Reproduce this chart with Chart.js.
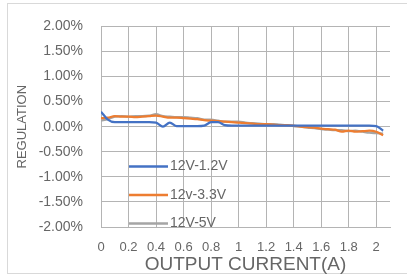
<!DOCTYPE html>
<html>
<head>
<meta charset="utf-8">
<script src="https://cdn.jsdelivr.net/npm/chart.js@4"></script>
<style>
    html, body { margin: 0; background: #fff; overflow: hidden; }
    #frame { position: absolute; left: 7px; top: 3px; width: 405px; height: 269px; border: 1px solid #d9d9d9; }
    #chart { position: absolute; left: 0; top: 0; }
</style>
</head>
<body>
<div id="frame"></div>
<canvas id="chart" width="407" height="275"></canvas>
<script>
// output current (A), one reading every 0.05 A
const currents = [
    0, 0.05, 0.1, 0.15, 0.2, 0.25, 0.3, 0.35, 0.4, 0.45,
    0.5, 0.55, 0.6, 0.65, 0.7, 0.75, 0.8, 0.85, 0.9, 0.95,
    1, 1.05, 1.1, 1.15, 1.2, 1.25, 1.3, 1.35, 1.4, 1.45,
    1.5, 1.55, 1.6, 1.65, 1.7, 1.75, 1.8, 1.85, 1.9, 1.95,
    2, 2.05
];

// regulation in %
const reg12to1v2 = [
    0.30, 0.14, 0.09, 0.09, 0.09, 0.09, 0.09, 0.09, 0.08, 0.00,
    0.08, 0.01, 0.01, 0.01, 0.01, 0.02, 0.09, 0.09, 0.03, 0.02,
    0.02, 0.02, 0.02, 0.02, 0.02, 0.02, 0.02, 0.02, 0.02, 0.02,
    0.02, 0.02, 0.02, 0.02, 0.02, 0.02, 0.02, 0.02, 0.02, 0.02,
    0.01, -0.08
];
const reg12to3v3 = [
    0.17, 0.18, 0.21, 0.20, 0.20, 0.19, 0.20, 0.21, 0.22, 0.20,
    0.18, 0.18, 0.17, 0.16, 0.15, 0.13, 0.12, 0.11, 0.10, 0.09,
    0.08, 0.07, 0.06, 0.05, 0.05, 0.04, 0.03, 0.03, 0.02, 0.00,
    -0.01, -0.02, -0.04, -0.05, -0.06, -0.10, -0.08, -0.10, -0.09, -0.08,
    -0.10, -0.17
];
const reg12to5v = [
    0.12, 0.15, 0.20, 0.21, 0.20, 0.21, 0.21, 0.22, 0.25, 0.21,
    0.20, 0.19, 0.19, 0.18, 0.17, 0.14, 0.14, 0.12, 0.10, 0.10,
    0.10, 0.08, 0.07, 0.06, 0.05, 0.05, 0.04, 0.03, 0.01, 0.00,
    -0.02, -0.03, -0.05, -0.06, -0.07, -0.07, -0.09, -0.08, -0.10, -0.12,
    -0.13, -0.14
];

const seriesNames = ["12V-1.2V", "12v-3.3V", "12V-5V"];
const seriesColors = ["#4472C4", "#ED7D31", "#A5A5A5"];

const textColor = "#666666";
const gridColor = "#b4b4b4";

const points = (values) => values.map((v, i) => ({ x: currents[i], y: v }));

// legend sits inside the plot, stacked at the lower left
const insideLegend = {
    id: "insideLegend",
    afterDatasetsDraw(chart) {
        const { ctx, chartArea } = chart;
        const x0 = chartArea.left + 28;
        let y = chartArea.top + 140;

        ctx.save();
        ctx.font = "14px " + Chart.defaults.font.family;
        ctx.textAlign = "left";
        ctx.textBaseline = "middle";
        ctx.fillStyle = textColor;
        chart.data.datasets.forEach((ds) => {
            ctx.strokeStyle = ds.borderColor;
            ctx.lineWidth = 2.5;
            ctx.beginPath();
            ctx.moveTo(x0, y);
            ctx.lineTo(x0 + 39, y);
            ctx.stroke();
            ctx.fillText(ds.label, x0 + 41, y);
            y += 28.5;
        });
        ctx.restore();
    }
};

const makeDataset = (i, values, order) => ({
    label: seriesNames[i],
    data: points(values),
    borderColor: seriesColors[i],
    borderWidth: 2.25,
    pointRadius: 0,
    cubicInterpolationMode: "monotone",
    order: order
});

new Chart(document.querySelector("#chart"), {
    type: "line",
    data: {
        datasets: [
            makeDataset(0, reg12to1v2, 1),
            makeDataset(1, reg12to3v3, 2),
            makeDataset(2, reg12to5v, 3)
        ]
    },
    options: {
        responsive: false,
        animation: false,
        layout: {
            padding: { top: 21, right: 17, left: 0, bottom: 0 }
        },
        scales: {
            x: {
                type: "linear",
                min: 0,
                max: 2.1,
                border: { color: gridColor },
                grid: { color: gridColor, drawTicks: false },
                ticks: {
                    stepSize: 0.2,
                    includeBounds: false,
                    maxRotation: 0,
                    autoSkip: false,
                    padding: 13,
                    color: textColor,
                    font: { size: 13 },
                    callback: (v) => String(Number(v.toFixed(1)))
                },
                title: {
                    display: true,
                    text: "OUTPUT CURRENT(A)",
                    color: textColor,
                    font: { size: 19, lineHeight: 1 },
                    padding: { top: 0, bottom: 1 }
                },
                afterFit: (scale) => { scale.height = 48; }
            },
            y: {
                min: -2,
                max: 2,
                border: { color: gridColor },
                grid: { color: gridColor, drawTicks: false },
                ticks: {
                    stepSize: 0.5,
                    padding: 18,
                    color: textColor,
                    font: { size: 14 },
                    callback: (v) => v.toFixed(2) + "%"
                },
                title: {
                    display: true,
                    text: "REGULATION",
                    color: textColor,
                    font: { size: 13, lineHeight: 1.2 },
                    padding: { top: 15, bottom: 0 }
                },
                afterFit: (scale) => { scale.width = 101; }
            }
        },
        plugins: {
            legend: { display: false },
            tooltip: { enabled: false }
        }
    },
    plugins: [insideLegend]
});
</script>
</body>
</html>
